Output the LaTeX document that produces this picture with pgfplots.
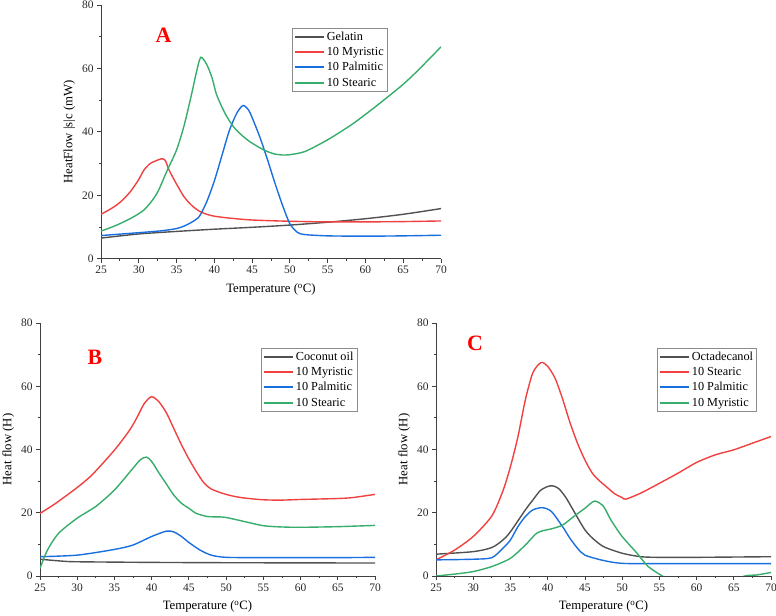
\documentclass[border=0pt]{standalone}
\usepackage{pgfplots}
\pgfplotsset{compat=1.18}
\usepackage{fontspec}
\setmainfont{Liberation Serif}
\definecolor{cblk}{HTML}{515151}
\definecolor{cred}{HTML}{F14040}
\definecolor{cblu}{HTML}{1A6FDF}
\definecolor{cgrn}{HTML}{37AD6B}
\pgfplotsset{
  dsc/.style={
    scale only axis,
    xmin=25, xmax=70, ymin=0, ymax=80,
    xtick={25,30,...,70}, ytick={0,20,...,80},
    minor x tick num=1, minor y tick num=1,
    axis x line*=bottom, axis y line*=left,
    axis line style={draw=black!75, line width=0.9pt},
    tick style={draw=black!75, line width=0.8pt},
    tick align=outside,
    major tick length=4bp, minor tick length=2.5bp,
    /pgf/number format/assume math mode=true,
    tick label style={font=\fontsize{11.5}{12}\selectfont, text=black!85},
    label style={font=\fontsize{12.8}{14}\selectfont},
    xlabel style={yshift=-3bp},
    xlabel={Temperature (\textsuperscript{o}C)},
    legend cell align=left,
    legend style={draw=black!45, line width=0.6pt, font=\fontsize{12.3}{14}\selectfont,
      anchor=north west, inner sep=1.5bp, row sep=1.5bp},
    legend image code/.code={\draw[#1, line width=2pt] (0bp,0bp) -- (29bp,0bp);},
    every axis plot/.append style={line width=1.4pt, smooth, tension=0.45},
  }
}
\begin{document}
\begin{tikzpicture}[x=1bp,y=1bp]
\path[use as bounding box] (0,0) rectangle (776,616);
% Panel A
\begin{axis}[dsc, at={(101bp,357.3bp)}, anchor=south west, width=340bp, height=253.7bp,
  ylabel={HeatFlow |s|c (mW)},
  legend style={at={(0.562,0.909)}}]
\addplot[cblk] coordinates {(25,6.5)(30,7.8)(35,8.6)(40,9.3)(45,9.9)(50,10.6)(55,11.5)(60,12.6)(65,14.0)(70,15.8)};
\addplot[cred] coordinates {(25,14)(26,15.3)(27,16.8)(28,18.8)(29,21.5)(30,25)(30.7,28)(31.5,30)(32.2,30.8)(33,31.5)(33.5,31)(34,28)(35,23.5)(36,19.5)(37,16.8)(38,15)(39,14)(40,13.4)(42,12.8)(45,12.2)(50,11.8)(55,11.6)(60,11.6)(65,11.7)(70,11.9)};
\addplot[cblu] coordinates {(25,7.3)(30,8.2)(33,8.8)(35,9.5)(36,10.3)(37,11.5)(38,13.3)(39,18)(40,24.5)(41,32.5)(42,40.5)(43,46)(43.8,48.3)(44.5,47)(45,44.5)(46,38.5)(47,31.5)(48,24)(49,17)(50,11)(51,8.3)(52,7.6)(55,7.2)(60,7.1)(65,7.2)(70,7.4)};
\addplot[cgrn] coordinates {(25,8.7)(27,10.5)(29,12.8)(30.5,15)(31.5,17.5)(32.5,21)(33.7,27.5)(35,34.3)(36,42)(37,52)(37.6,58.5)(38.2,63.5)(39,61.2)(39.7,57)(40.3,51.7)(41.4,45.9)(42.5,41.7)(43.6,39)(44.7,36.9)(46,35)(47,33.8)(48,33)(49,32.7)(50,32.8)(52,33.8)(55,37.5)(58,42)(60,45.5)(62,49.2)(65,55)(67,59.5)(70,66.8)};
\legend{Gelatin, 10 Myristic, 10 Palmitic, 10 Stearic}
\end{axis}
% Panel B
\begin{axis}[dsc, at={(40bp,40bp)}, anchor=south west, width=335bp, height=253bp,
  ylabel={Heat flow (H)},
  legend style={at={(0.66,0.901)}}]
\addplot[cblk] coordinates {(25,5.3)(28,4.7)(30,4.5)(40,4.3)(50,4.2)(60,4.15)(70,4.1)};
\addplot[cred] coordinates {(25,19.8)(27,22.8)(30,28)(32,32)(35,39.8)(37,46)(38,50)(39,54.5)(40,56.7)(41,55)(42,51.5)(43,46.5)(44,41.5)(45,37)(46,33)(47,29.5)(48,27.5)(50,25.8)(52,24.8)(55,24.1)(57.5,24)(60,24.2)(65,24.5)(67,24.8)(70,25.8)};
\addplot[cblu] coordinates {(25,6.1)(30,6.6)(35,8.4)(37.5,9.8)(40,12.5)(42,14.2)(43,13.9)(44,12.5)(45,10.6)(46.5,8.2)(48,6.6)(50,5.9)(55,5.8)(60,5.8)(65,5.8)(70,5.9)};
\addplot[cgrn] coordinates {(25,2.4)(26,8.2)(27.5,13.5)(30,18.3)(32.5,22)(35,27.2)(37.5,34.1)(38.5,36.8)(39.3,37.6)(40,36.2)(41,32.5)(42,29)(43,25.5)(44,23)(45,21.4)(46,19.8)(47.5,18.8)(49,18.7)(50,18.5)(52.5,17.2)(55,15.9)(57.5,15.5)(60,15.4)(65,15.6)(70,16)};
\legend{Coconut oil, 10 Myristic, 10 Palmitic, 10 Stearic}
\end{axis}
% Panel C
\begin{axis}[dsc, at={(436bp,40bp)}, anchor=south west, width=335bp, height=253bp,
  ylabel={Heat flow (H)},
  legend style={at={(0.66,0.901)}}]
\addplot[cblk] coordinates {(25,6.9)(30,7.7)(32.5,9)(34,11.4)(35,14)(37,20.9)(38,24)(39,27)(40,28.3)(40.7,28.5)(41.5,27.6)(42.5,24.6)(44,18.5)(45,14.6)(46,12)(47.5,9.3)(50,7.2)(52.5,6.1)(55,5.9)(60,5.9)(70,6.1)};
\addplot[cred] coordinates {(25,5.1)(27.5,8.2)(30,12.5)(32.5,19)(34,27)(35,34.6)(36,44)(37,55.7)(38,64.2)(39.1,67.5)(40,66.3)(41,62.5)(42,56)(43,48.5)(44,42)(45,36.7)(46,32.5)(47,30)(48,28)(49,26)(50,24.8)(50.5,24.3)(52.5,26.2)(55,29.3)(57.5,32.5)(60,35.9)(62.5,38.3)(65,39.9)(67.5,42)(70,44.1)};
\addplot[cblu] coordinates {(25,5.1)(30,5.3)(32.5,5.8)(34,8.8)(35,11.4)(36,15.6)(37,18.8)(38,20.9)(39.3,21.6)(40.5,20.4)(42,15.6)(43,11.9)(44,8.8)(45,6.6)(47.5,4.9)(50,4)(55,3.9)(70,3.9)};
\addplot[cgrn] coordinates {(25,0)(27.5,0.6)(30,1.4)(32.5,3)(35,5.6)(37,9.8)(38.5,13.5)(39.5,14.4)(40.5,14.9)(42,16.1)(43.5,18.8)(45,21.4)(46.3,23.7)(47.5,22)(48.5,17.7)(50,12.5)(52,7.2)(53.5,3)(55.4,0)(57,-2)(60,-3.5)(63,-2.5)(66.5,0)(68,0.3)(70,1.1)};
\legend{Octadecanol, 10 Stearic, 10 Palmitic, 10 Myristic}
\end{axis}
\node[text=red, font=\fontsize{22}{22}\bfseries\selectfont] at (163.5,581) {A};
\node[text=red, font=\fontsize{22}{22}\bfseries\selectfont] at (95,259) {B};
\node[text=red, font=\fontsize{22}{22}\bfseries\selectfont] at (475,273) {C};
\end{tikzpicture}
\end{document}
